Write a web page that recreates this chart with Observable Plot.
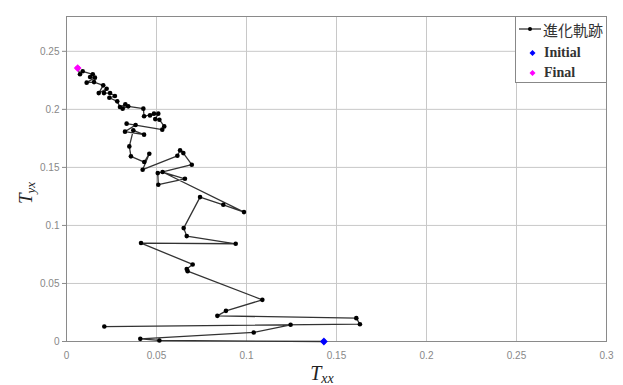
<!DOCTYPE html>
<html><head><meta charset="utf-8">
<script src="https://cdn.jsdelivr.net/npm/d3@7"></script>
<script src="https://cdn.jsdelivr.net/npm/@observablehq/plot@0.6"></script>
<style>
body{margin:0;background:#fff;}
#wrap{position:relative;width:623px;height:385px;overflow:hidden;}
#legend{position:absolute;left:515px;top:16px;width:92px;height:67px;border:1px solid #888;background:#fff;box-sizing:border-box;font-family:"Liberation Serif","Noto Sans CJK JP",serif;color:#222;}
#legend .row{position:absolute;left:0;height:20px;display:flex;align-items:center;white-space:nowrap;}
</style></head><body><div id="wrap"><div id="legend"></div></div>
<script>
// trajectory (from initial to final)
const Txx = [0.143,0.0516,0.041,0.104,0.1245,0.021,0.163,0.161,0.0838,0.0886,0.1088,0.0673,0.0668,0.0701,0.0414,0.094,0.0668,0.0651,0.0742,0.0871,0.0986,
  0.0534,0.0658,0.051,0.0507,0.0696,0.0649,0.0631,0.0616,0.0423,0.046,0.0432,0.0358,0.0349,
  0.0371,0.0431,0.0325,0.0384,0.0334,0.0532,0.0543,0.0516,0.0493,0.051,0.0464,0.0486,0.0431,0.0427,0.0343,0.0312,0.0327,0.0297,0.0282,0.0238,0.0269,0.0242,0.0208,0.0223,0.0179,0.0204,0.0153,0.0112,0.0158,0.0131,0.0146,0.009,0.0075,0.0062];
const Tyx = [0.0,0.0009,0.0023,0.0078,0.0144,0.0129,0.0149,0.0201,0.0221,0.0264,0.0359,0.0606,0.0624,0.0664,0.0848,0.0842,0.0908,0.0977,0.1244,0.1178,0.1115,
  0.146,0.1402,0.1351,0.1451,0.1523,0.1623,0.1647,0.160,0.148,0.1618,0.1546,0.1595,0.1681,
  0.1819,0.1782,0.1808,0.1865,0.1877,0.1825,0.1853,0.1911,0.1916,0.1963,0.1948,0.1963,0.194,0.2006,0.2026,0.2006,0.2043,0.202,0.2069,0.21,0.2115,0.214,0.214,0.2178,0.214,0.2207,0.2235,0.223,0.2273,0.2279,0.2302,0.2328,0.2302,0.2356];
const initialTxx = [0.143], initialTyx = [0.0];
const finalTxx = [0.0062], finalTyx = [0.2356];
const xTicks = [0,0.05,0.1,0.15,0.2,0.25,0.3];
const yTicks = [0,0.05,0.1,0.15,0.2,0.25];
const legendLabels = ["進化軌跡","Initial","Final"];
const legendColors = ["#000","#0000ff","#ff00ff"];

const traj = Txx.map((x,i)=>({x, y:Tyx[i]}));
const initial = initialTxx.map((x,i)=>({x, y:initialTyx[i]}));
const fin = finalTxx.map((x,i)=>({x, y:finalTyx[i]}));
const fmt = d3.format("~g");

const chart = Plot.plot({
  width:623, height:385,
  marginLeft:66, marginRight:17, marginTop:16, marginBottom:44,
  x:{domain:[0,0.3]},
  y:{domain:[0,0.28]},
  style:{fontFamily:"Liberation Sans, Arial, sans-serif", fontSize:"10px", background:"transparent", overflow:"visible"},
  marks:[
    Plot.gridX(xTicks,{stroke:"#c8c8c8", strokeOpacity:1}),
    Plot.gridY(yTicks,{stroke:"#c8c8c8", strokeOpacity:1}),
    Plot.frame({stroke:"#8a8a8a"}),
    Plot.axisX(xTicks,{tickFormat:fmt, tickSize:0, tickPadding:10, fill:"#888", label:null}),
    Plot.axisY(yTicks,{tickFormat:fmt, tickSize:4, tickPadding:3, stroke:"#8a8a8a", fill:"#888", label:null}),
    Plot.line(traj,{x:"x", y:"y", stroke:"#333", strokeWidth:1.3}),
    Plot.dot(traj,{x:"x", y:"y", r:2.3, fill:"#000"}),
    Plot.dot(initial,{x:"x", y:"y", symbol:"diamond2", r:3.5, fill:legendColors[1]}),
    Plot.dot(fin,{x:"x", y:"y", symbol:"diamond2", r:3.5, fill:legendColors[2]})
  ]
});
chart.style.position = "absolute"; chart.style.left = "0"; chart.style.top = "0";
document.getElementById("wrap").prepend(chart);

// axis titles with subscripts
const svg = d3.select(chart);
const xl = svg.append("text").attr("x",322).attr("y",380)
  .style("font-family","Liberation Serif, serif").style("font-style","italic").attr("fill","#222");
xl.append("tspan").attr("font-size",20).text("T");
xl.append("tspan").attr("font-size",14).attr("dy",3).text("xx");
const yl = svg.append("text").attr("transform","translate(32,193) rotate(-90)")
  .style("font-family","Liberation Serif, serif").style("font-style","italic").attr("fill","#222");
yl.append("tspan").attr("font-size",19).text("T");
yl.append("tspan").attr("font-size",13).attr("dy",3).text("yx");

// legend
const lg = document.getElementById("legend");
const tops = [2,26,46];
legendLabels.forEach((lab,i)=>{
  const row = document.createElement("div");
  row.className = "row"; row.style.top = tops[i]+"px";
  let sym;
  if(i===0){
    sym = `<svg width="27" height="20"><line x1="3" y1="10" x2="25" y2="10" stroke="#333" stroke-width="1.3"/><circle cx="14" cy="10" r="2" fill="#000"/></svg>`;
  } else {
    sym = `<svg width="28" height="20"><path d="M16.5,7 L19.5,10 L16.5,13 L13.5,10 Z" fill="${legendColors[i]}"/></svg>`;
  }
  row.innerHTML = sym + `<span style="font-size:${i===0?15:14}px;font-weight:${i===0?'normal':'bold'};color:#333">${lab}</span>`;
  lg.appendChild(row);
});
</script>
</body></html>
